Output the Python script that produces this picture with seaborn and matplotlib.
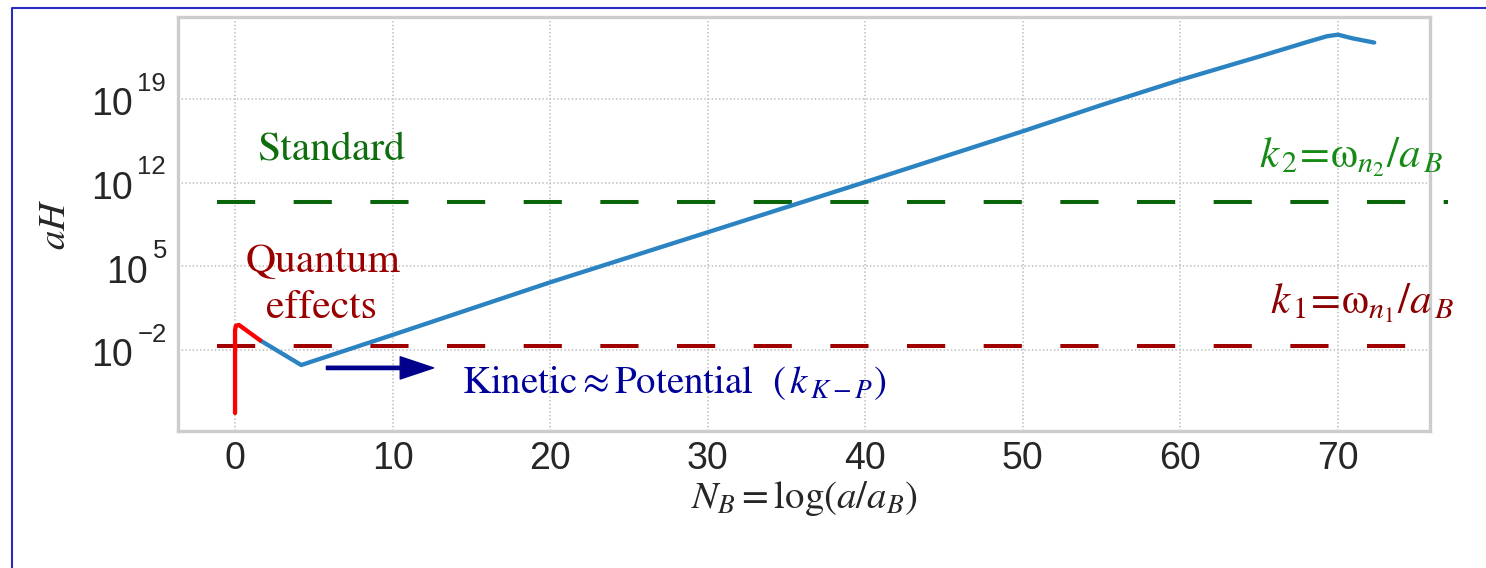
import numpy as np
import pandas as pd
import matplotlib
matplotlib.use("Agg")
import matplotlib.pyplot as plt
from matplotlib.lines import Line2D
from matplotlib.ticker import FixedLocator, NullLocator
import seaborn as sns

# values (y as log10 of aH)
nb_quantum = [0.0, 0.0, 0.05, 0.25, 1.6]
log_ah_quantum = [-7.27, -0.35, 0.02, 0.09, -1.2]

nb_standard = [1.6, 4.2, 10, 20, 30, 40, 50, 55, 60, 65, 68, 69.3, 70, 70.9, 72.3]
log_ah_standard = [-1.2, -3.26, -0.74, 3.66, 7.85, 12.05, 16.3, 18.5, 20.6,
                   22.55, 23.75, 24.25, 24.38, 24.08, 23.72]

log_k1 = -1.7
log_k2 = 10.4
hline_span = [-1.14, 77.0]
arrow_span = [5.8, 12.6]
log_arrow = -3.5

x_ticks = [0, 10, 20, 30, 40, 50, 60, 70]
y_ticks = [1e-2, 1e5, 1e12, 1e19]

W, H = 1486, 568
TXT = "#262626"

sns.set_theme(style="whitegrid")
plt.rcParams["font.family"] = ["Liberation Sans", "DejaVu Sans"]
plt.rcParams["lines.scale_dashes"] = False

fig = plt.figure(figsize=(W / 100, H / 100), dpi=100)
ax = fig.add_axes([178 / W, 1 - 431 / H, (1430 - 178) / W, (431 - 17) / H])

df_q = pd.DataFrame({"NB": nb_quantum, "aH": np.power(10.0, log_ah_quantum)})
df_s = pd.DataFrame({"NB": nb_standard, "aH": np.power(10.0, log_ah_standard)})

# reference levels
ax.plot(hline_span, [10 ** log_k2] * 2, color="#0a650a", lw=2.9,
        dashes=(27.5, 27.7), clip_on=False, zorder=2)
ax.plot(hline_span, [10 ** log_k1] * 2, color="#a00000", lw=2.9,
        dashes=(27.5, 27.7), zorder=2)

sns.lineplot(data=df_s, x="NB", y="aH", sort=False, estimator=None,
             color="#2b83c2", lw=3.1, ax=ax, zorder=3)
sns.lineplot(data=df_q, x="NB", y="aH", sort=False, estimator=None,
             color="#ff0000", lw=3.1, ax=ax, zorder=4)

ax.set_yscale("log")
ax.set_xlim(-3.62, 75.84)
ax.set_ylim(10 ** -8.78, 10 ** 25.86)
ax.xaxis.set_major_locator(FixedLocator(x_ticks))
ax.yaxis.set_major_locator(FixedLocator(y_ticks))
ax.yaxis.set_minor_locator(NullLocator())

ax.grid(True, linestyle=":", color="#c8c8c8", lw=1.4)
for s in ax.spines.values():
    s.set_color("#cccccc")
    s.set_linewidth(2.4)
ax.tick_params(axis="both", length=0, labelsize=27, labelcolor=TXT)
ax.tick_params(axis="x", pad=7)
ax.tick_params(axis="y", labelleft=False)

# y tick labels drawn as 10 with a raised exponent
ytrans = ax.get_yaxis_transform()
for v in y_ticks:
    e = str(int(round(np.log10(v)))).replace("-", "\u2212")
    right_px = 148 if len(e) == 1 else 133
    base = ax.annotate("10", xy=(0, v), xycoords=ytrans,
                       xytext=((right_px - 178) * 0.72, -6.5 * 0.72),
                       textcoords="offset points", ha="right", va="center",
                       fontsize=27, color=TXT)
    ax.annotate(e, xy=(1, 1), xycoords=base, xytext=(3.2, -2.4),
                textcoords="offset points", ha="left", va="baseline",
                fontsize=18.5, color=TXT)

ax.set_xlabel(r"$N_B = \log(a/a_B)$", fontsize=28, color=TXT,
              math_fontfamily="stix")
ax.xaxis.set_label_coords(0.5, (431 - 479) / 414)
ax.set_ylabel(r"$aH$", fontsize=28, color=TXT, math_fontfamily="stix")
ax.yaxis.set_label_coords((73 - 178) / 1252, 0.5)

serif = dict(family="STIXGeneral", math_fontfamily="stix")
ax.text(6.1, 10 ** 13.9, "Standard", color="#0e6e0e", fontsize=30,
        ha="center", va="baseline", **serif)
ax.text(5.6, 10 ** 4.53, "Quantum", color="#9b0000", fontsize=30,
        ha="center", va="baseline", **serif)
ax.text(5.5, 10 ** 0.68, "effects", color="#9b0000", fontsize=30,
        ha="center", va="baseline", **serif)
ax.text(14.4, 10 ** -5.6,
        r"Kinetic$\approx$Potential  $\left(\,k_{\,K-P}\right)$",
        color="#00009a", fontsize=28, ha="left", va="baseline", **serif)
ax.text(65.0, 10 ** 13.31, r"$k_{\,2}\!=\!\mathrm{\omega}_{n_2}/a_{\,B}$",
        color="#158a15", fontsize=31, ha="left", va="baseline", **serif)
ax.text(65.7, 10 ** 1.1, r"$k_{\,1}\!=\!\mathrm{\omega}_{n_1}/a_{\,B}$",
        color="#8b0000", fontsize=31, ha="left", va="baseline", **serif)

ax.annotate("", xy=(arrow_span[1], 10 ** log_arrow),
            xytext=(arrow_span[0], 10 ** log_arrow),
            arrowprops=dict(color="#00008b", width=2.4, headwidth=16,
                            headlength=24, shrink=0))

# blue frame around the figure
fig.add_artist(Line2D([12 / W, 12 / W, 1.0], [0.0, 1 - 8 / H, 1 - 8 / H],
                      transform=fig.transFigure, color="#2a2ac4", lw=1.5))

fig.savefig("out.png", dpi=100)
